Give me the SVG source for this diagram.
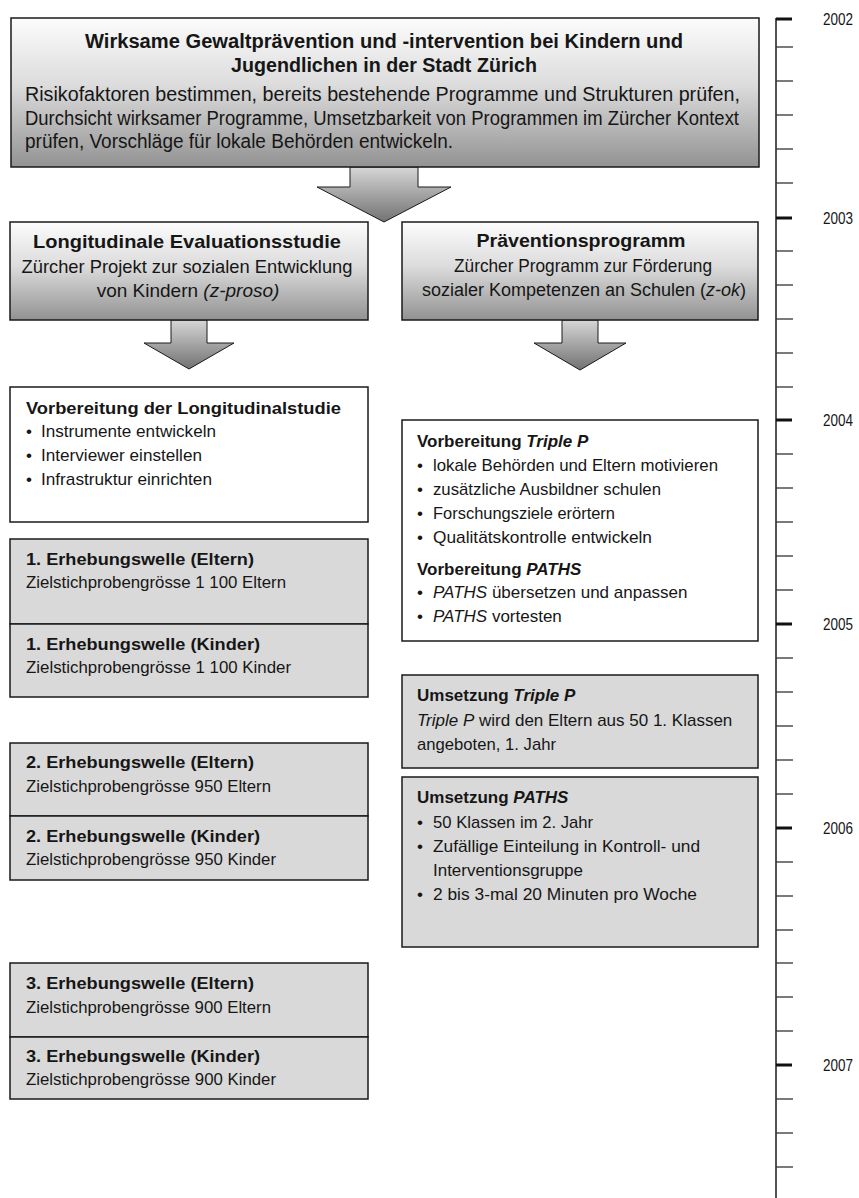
<svg xmlns="http://www.w3.org/2000/svg" width="859" height="1198" viewBox="0 0 859 1198">
<defs>
<linearGradient id="gBox" x1="0" y1="0" x2="0" y2="1">
<stop offset="0" stop-color="#fcfcfc"/>
<stop offset="0.45" stop-color="#dcdcdc"/>
<stop offset="1" stop-color="#929292"/>
</linearGradient>
<linearGradient id="gArrow" x1="0" y1="0" x2="0" y2="1">
<stop offset="0" stop-color="#d6d6d6"/>
<stop offset="1" stop-color="#727272"/>
</linearGradient>
<style>
.t{font-family:"Liberation Sans Narrow","Liberation Sans",Arial,sans-serif;fill:#161616}
.b{font-weight:bold}
.i{font-style:italic}
.f20{font-size:20px}
.f19{font-size:19px}
.f18{font-size:18px}
.f17{font-size:17px}
.f16{font-size:16px}
.m{text-anchor:middle}
.grad{fill:url(#gBox);stroke:#1a1a1a;stroke-width:1.5}
.white{fill:#ffffff;stroke:#1a1a1a;stroke-width:1.5}
.gray{fill:#d9d9d9;stroke:#1a1a1a;stroke-width:1.5}
.arrow{fill:url(#gArrow);stroke:#1a1a1a;stroke-width:1}
.axis{stroke:#1a1a1a;stroke-width:1.5;fill:none}
.minor{stroke:#333;stroke-width:1.3}
.major{stroke:#111;stroke-width:3}
</style>
</defs>
<rect width="859" height="1198" fill="#ffffff"/>

<g id="connectors">
<polygon class="arrow" points="350,167 418,167 418,187 451,187 384,222 317,187 350,187"/>
<polygon class="arrow" points="171,320 207,320 207,343 234,343 189,369 144,343 171,343"/>
<polygon class="arrow" points="562,320 598,320 598,343 626,343 580,370 534,343 562,343"/>
</g>

<g id="node-main">
<rect class="grad" x="11" y="18" width="748" height="149"/>
<text class="t b f20 m" x="384" y="48" textLength="598" lengthAdjust="spacingAndGlyphs">Wirksame Gewaltprävention und -intervention bei Kindern und</text>
<text class="t b f20 m" x="384" y="72" textLength="306" lengthAdjust="spacingAndGlyphs">Jugendlichen in der Stadt Zürich</text>
<text class="t f20" x="25" y="101" textLength="715" lengthAdjust="spacingAndGlyphs">Risikofaktoren bestimmen, bereits bestehende Programme und Strukturen prüfen,</text>
<text class="t f20" x="25" y="125" textLength="714" lengthAdjust="spacingAndGlyphs">Durchsicht wirksamer Programme, Umsetzbarkeit von Programmen im Zürcher Kontext</text>
<text class="t f20" x="25" y="148" textLength="428" lengthAdjust="spacingAndGlyphs">prüfen, Vorschläge für lokale Behörden entwickeln.</text>
</g>

<g id="node-longitudinal">
<rect class="grad" x="10" y="222" width="358" height="98"/>
<text class="t b f19 m" x="187" y="248" textLength="308" lengthAdjust="spacingAndGlyphs">Longitudinale Evaluationsstudie</text>
<text class="t f19 m" x="187" y="273" textLength="331" lengthAdjust="spacingAndGlyphs">Zürcher Projekt zur sozialen Entwicklung</text>
<text class="t f19 m" x="188" y="297">von Kindern <tspan class="i">(z-proso)</tspan></text>
</g>

<g id="node-praevention">
<rect class="grad" x="402" y="222" width="356" height="98"/>
<text class="t b f19 m" x="581" y="247" textLength="209" lengthAdjust="spacingAndGlyphs">Präventionsprogramm</text>
<text class="t f19 m" x="583" y="272" textLength="258" lengthAdjust="spacingAndGlyphs">Zürcher Programm zur Förderung</text>
<text class="t f18 m" x="584" y="296">sozialer Kompetenzen an Schulen (<tspan class="i">z-ok</tspan>)</text>
</g>

<g id="node-vorbereitung-longitudinal">
<rect class="white" x="10" y="387" width="358" height="135"/>
<text class="t b f17" x="26" y="414" textLength="315" lengthAdjust="spacingAndGlyphs">Vorbereitung der Longitudinalstudie</text>
<text class="t f17" x="26" y="437">•</text>
<text class="t f17" x="41" y="437" textLength="175" lengthAdjust="spacingAndGlyphs">Instrumente entwickeln</text>
<text class="t f17" x="26" y="461">•</text>
<text class="t f17" x="41" y="461" textLength="161" lengthAdjust="spacingAndGlyphs">Interviewer einstellen</text>
<text class="t f17" x="26" y="485">•</text>
<text class="t f17" x="41" y="485" textLength="171" lengthAdjust="spacingAndGlyphs">Infrastruktur einrichten</text>
</g>

<g id="node-welle1-eltern">
<rect class="gray" x="10" y="539" width="358" height="85"/>
<text class="t b f17" x="26" y="565" textLength="228" lengthAdjust="spacingAndGlyphs">1. Erhebungswelle (Eltern)</text>
<text class="t f17" x="26" y="588" textLength="260" lengthAdjust="spacingAndGlyphs">Zielstichprobengrösse 1 100 Eltern</text>
</g>
<g id="node-welle1-kinder">
<rect class="gray" x="10" y="624" width="358" height="73"/>
<text class="t b f17" x="26" y="650" textLength="234" lengthAdjust="spacingAndGlyphs">1. Erhebungswelle (Kinder)</text>
<text class="t f17" x="26" y="673" textLength="265" lengthAdjust="spacingAndGlyphs">Zielstichprobengrösse 1 100 Kinder</text>
</g>

<g id="node-welle2-eltern">
<rect class="gray" x="10" y="743" width="358" height="73"/>
<text class="t b f17" x="26" y="768" textLength="228" lengthAdjust="spacingAndGlyphs">2. Erhebungswelle (Eltern)</text>
<text class="t f17" x="26" y="792" textLength="245" lengthAdjust="spacingAndGlyphs">Zielstichprobengrösse 950 Eltern</text>
</g>
<g id="node-welle2-kinder">
<rect class="gray" x="10" y="816" width="358" height="64"/>
<text class="t b f17" x="26" y="842" textLength="234" lengthAdjust="spacingAndGlyphs">2. Erhebungswelle (Kinder)</text>
<text class="t f17" x="26" y="865" textLength="250" lengthAdjust="spacingAndGlyphs">Zielstichprobengrösse 950 Kinder</text>
</g>

<g id="node-welle3-eltern">
<rect class="gray" x="10" y="963" width="358" height="74"/>
<text class="t b f17" x="26" y="989" textLength="228" lengthAdjust="spacingAndGlyphs">3. Erhebungswelle (Eltern)</text>
<text class="t f17" x="26" y="1013" textLength="245" lengthAdjust="spacingAndGlyphs">Zielstichprobengrösse 900 Eltern</text>
</g>
<g id="node-welle3-kinder">
<rect class="gray" x="10" y="1037" width="358" height="62"/>
<text class="t b f17" x="26" y="1062" textLength="234" lengthAdjust="spacingAndGlyphs">3. Erhebungswelle (Kinder)</text>
<text class="t f17" x="26" y="1085" textLength="250" lengthAdjust="spacingAndGlyphs">Zielstichprobengrösse 900 Kinder</text>
</g>

<g id="node-vorbereitung-programm">
<rect class="white" x="402" y="420" width="356" height="221"/>
<text class="t b f17" x="417" y="447">Vorbereitung <tspan class="i">Triple P</tspan></text>
<text class="t f17" x="417" y="471">•</text>
<text class="t f17" x="433" y="471" textLength="285" lengthAdjust="spacingAndGlyphs">lokale Behörden und Eltern motivieren</text>
<text class="t f17" x="417" y="495">•</text>
<text class="t f17" x="433" y="495" textLength="228" lengthAdjust="spacingAndGlyphs">zusätzliche Ausbildner schulen</text>
<text class="t f17" x="417" y="519">•</text>
<text class="t f17" x="433" y="519" textLength="182" lengthAdjust="spacingAndGlyphs">Forschungsziele erörtern</text>
<text class="t f17" x="417" y="543">•</text>
<text class="t f17" x="433" y="543" textLength="219" lengthAdjust="spacingAndGlyphs">Qualitätskontrolle entwickeln</text>
<text class="t b f17" x="417" y="575">Vorbereitung <tspan class="i">PATHS</tspan></text>
<text class="t f17" x="417" y="598">•</text>
<text class="t f17" x="433" y="598"><tspan class="i">PATHS</tspan> übersetzen und anpassen</text>
<text class="t f17" x="417" y="622">•</text>
<text class="t f17" x="433" y="622"><tspan class="i">PATHS</tspan> vortesten</text>
</g>

<g id="node-umsetzung-triplep">
<rect class="gray" x="402" y="675" width="356" height="93"/>
<text class="t b f17" x="417" y="701">Umsetzung <tspan class="i">Triple P</tspan></text>
<text class="t f17" x="417" y="726"><tspan class="i">Triple P</tspan> wird den Eltern aus 50 1. Klassen</text>
<text class="t f17" x="417" y="750" textLength="139" lengthAdjust="spacingAndGlyphs">angeboten, 1. Jahr</text>
</g>

<g id="node-umsetzung-paths">
<rect class="gray" x="402" y="777" width="356" height="170"/>
<text class="t b f17" x="417" y="803">Umsetzung <tspan class="i">PATHS</tspan></text>
<text class="t f17" x="417" y="828">•</text>
<text class="t f17" x="433" y="828" textLength="160" lengthAdjust="spacingAndGlyphs">50 Klassen im 2. Jahr</text>
<text class="t f17" x="417" y="852">•</text>
<text class="t f17" x="433" y="852" textLength="267" lengthAdjust="spacingAndGlyphs">Zufällige Einteilung in Kontroll- und</text>
<text class="t f17" x="433" y="876" textLength="150" lengthAdjust="spacingAndGlyphs">Interventionsgruppe</text>
<text class="t f17" x="417" y="900">•</text>
<text class="t f17" x="433" y="900" textLength="264" lengthAdjust="spacingAndGlyphs">2 bis 3-mal 20 Minuten pro Woche</text>
</g>

<g id="timeline">
<line class="axis" x1="776" y1="18" x2="776" y2="1198"/>
<g class="minor">
<line x1="776" y1="47" x2="793" y2="47"/>
<line x1="776" y1="81" x2="793" y2="81"/>
<line x1="776" y1="115" x2="793" y2="115"/>
<line x1="776" y1="149" x2="793" y2="149"/>
<line x1="776" y1="183" x2="793" y2="183"/>
<line x1="776" y1="251" x2="793" y2="251"/>
<line x1="776" y1="285" x2="793" y2="285"/>
<line x1="776" y1="319" x2="793" y2="319"/>
<line x1="776" y1="353" x2="793" y2="353"/>
<line x1="776" y1="387" x2="793" y2="387"/>
<line x1="776" y1="454" x2="793" y2="454"/>
<line x1="776" y1="488" x2="793" y2="488"/>
<line x1="776" y1="522" x2="793" y2="522"/>
<line x1="776" y1="556" x2="793" y2="556"/>
<line x1="776" y1="590" x2="793" y2="590"/>
<line x1="776" y1="658" x2="793" y2="658"/>
<line x1="776" y1="692" x2="793" y2="692"/>
<line x1="776" y1="726" x2="793" y2="726"/>
<line x1="776" y1="760" x2="793" y2="760"/>
<line x1="776" y1="794" x2="793" y2="794"/>
<line x1="776" y1="862" x2="793" y2="862"/>
<line x1="776" y1="896" x2="793" y2="896"/>
<line x1="776" y1="930" x2="793" y2="930"/>
<line x1="776" y1="963" x2="793" y2="963"/>
<line x1="776" y1="997" x2="793" y2="997"/>
<line x1="776" y1="1031" x2="793" y2="1031"/>
<line x1="776" y1="1099" x2="793" y2="1099"/>
<line x1="776" y1="1133" x2="793" y2="1133"/>
<line x1="776" y1="1167" x2="793" y2="1167"/>
</g>
<g class="major">
<line x1="776" y1="19" x2="792" y2="19"/>
<line x1="776" y1="218" x2="792" y2="218"/>
<line x1="776" y1="420" x2="792" y2="420"/>
<line x1="776" y1="624" x2="792" y2="624"/>
<line x1="776" y1="828" x2="792" y2="828"/>
<line x1="776" y1="1065" x2="792" y2="1065"/>
</g>
<text class="t f16" x="823" y="25" textLength="30" lengthAdjust="spacingAndGlyphs">2002</text>
<text class="t f16" x="823" y="224" textLength="30" lengthAdjust="spacingAndGlyphs">2003</text>
<text class="t f16" x="823" y="426" textLength="30" lengthAdjust="spacingAndGlyphs">2004</text>
<text class="t f16" x="823" y="630" textLength="30" lengthAdjust="spacingAndGlyphs">2005</text>
<text class="t f16" x="823" y="834" textLength="30" lengthAdjust="spacingAndGlyphs">2006</text>
<text class="t f16" x="823" y="1071" textLength="30" lengthAdjust="spacingAndGlyphs">2007</text>
</g>
</svg>
